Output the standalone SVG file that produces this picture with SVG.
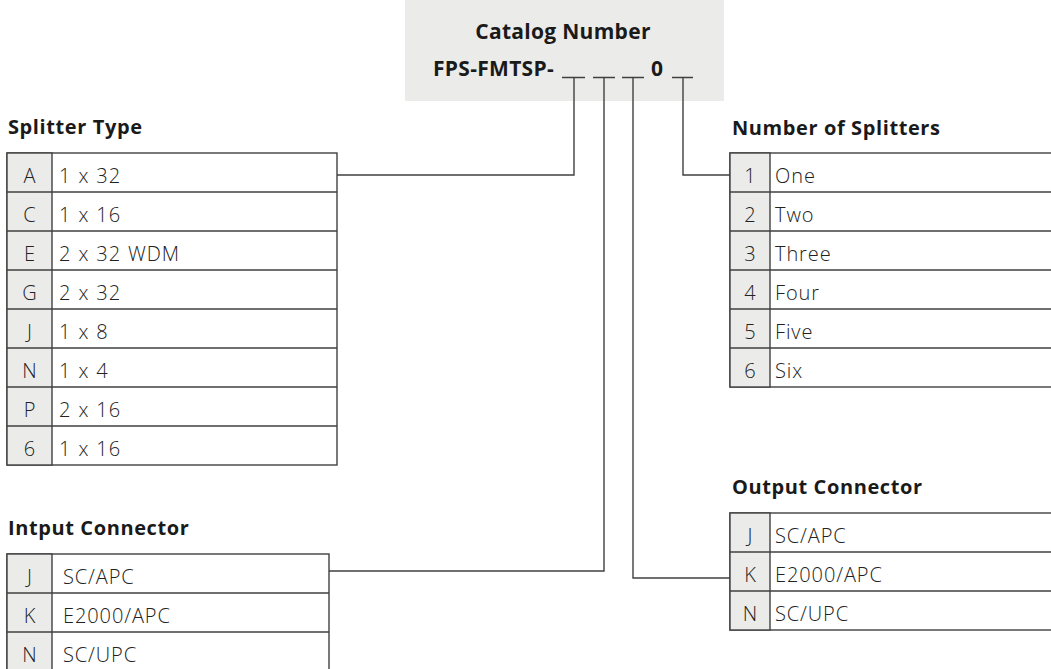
<svg xmlns="http://www.w3.org/2000/svg" width="1051" height="669" viewBox="0 0 1051 669">
<style>
.t{font-family:"Open Sans","Noto Sans","Liberation Sans",sans-serif;fill:#1a1a1a}
.h{font-weight:bold;font-size:20px;letter-spacing:0.6px}
.c{font-weight:bold;font-size:21px;letter-spacing:0.3px}
.v{font-size:20px;font-weight:300;letter-spacing:0.9px;fill:#222}
.k{font-size:20px;font-weight:300;fill:#222;text-anchor:middle}
.key{fill:#ebecea;stroke:#404040;stroke-width:1.4}
.cell{fill:#fff;stroke:#404040;stroke-width:1.4}
.ln{fill:none;stroke:#404040;stroke-width:1.4}
</style>
<rect width="1051" height="669" fill="#fff"/>
<g id="catalog">
<rect x="405" y="0" width="319" height="101" fill="#ebecea"/>
<text class="t c" x="563" y="39" text-anchor="middle">Catalog Number</text>
<text class="t c" x="433" y="76" letter-spacing="0">FPS-FMTSP-</text>
<text class="t c" x="651" y="76">0</text>
<path class="ln" d="M562 77.5H585M593 77.5H615M622 77.5H644M672 77.5H693"/>
</g>
<g id="connectors">
<path class="ln" d="M574 77.5V175H337"/>
<path class="ln" d="M604 77.5V571H329"/>
<path class="ln" d="M633 77.5V578H730"/>
<path class="ln" d="M683 77.5V175H730"/>
</g>
<g id="splitter-type">
<text class="t h" x="8" y="134">Splitter Type</text>
<rect class="cell" x="7" y="153" width="330" height="312"/>
<rect class="key" x="7" y="153" width="45" height="312"/>
<path class="ln" d="M7 192H337M7 231H337M7 270H337M7 309H337M7 348H337M7 387H337M7 426H337"/>
<g class="t k"><text x="29.5" y="183">A</text><text x="29.5" y="222">C</text><text x="29.5" y="261">E</text><text x="29.5" y="300">G</text><text x="29.5" y="339">J</text><text x="29.5" y="378">N</text><text x="29.5" y="417">P</text><text x="29.5" y="456">6</text></g>
<g class="t v" word-spacing="1"><text x="59" y="183">1 x 32</text><text x="59" y="222">1 x 16</text><text x="59" y="261">2 x 32 WDM</text><text x="59" y="300">2 x 32</text><text x="59" y="339">1 x 8</text><text x="59" y="378">1 x 4</text><text x="59" y="417">2 x 16</text><text x="59" y="456">1 x 16</text></g>
</g>
<g id="number-of-splitters">
<text class="t h" x="732" y="135">Number of Splitters</text>
<rect class="cell" x="730" y="153" width="330" height="234"/>
<rect class="key" x="730" y="153" width="40" height="234"/>
<path class="ln" d="M730 192H1060M730 231H1060M730 270H1060M730 309H1060M730 348H1060"/>
<g class="t k"><text x="750" y="183">1</text><text x="750" y="222">2</text><text x="750" y="261">3</text><text x="750" y="300">4</text><text x="750" y="339">5</text><text x="750" y="378">6</text></g>
<g class="t v"><text x="775" y="183">One</text><text x="775" y="222">Two</text><text x="775" y="261">Three</text><text x="775" y="300">Four</text><text x="775" y="339">Five</text><text x="775" y="378">Six</text></g>
</g>
<g id="input-connector">
<text class="t h" x="8" y="535">Intput Connector</text>
<rect class="cell" x="7" y="554" width="322" height="125"/>
<rect class="key" x="7" y="554" width="45" height="125"/>
<path class="ln" d="M7 593H329M7 632H329"/>
<g class="t k"><text x="29.5" y="584">J</text><text x="29.5" y="623">K</text><text x="29.5" y="662">N</text></g>
<g class="t v"><text x="63" y="584">SC/APC</text><text x="63" y="623">E2000/APC</text><text x="63" y="662">SC/UPC</text></g>
</g>
<g id="output-connector">
<text class="t h" x="732" y="494">Output Connector</text>
<rect class="cell" x="730" y="513" width="330" height="117"/>
<rect class="key" x="730" y="513" width="40" height="117"/>
<path class="ln" d="M730 552H1060M730 591H1060"/>
<g class="t k"><text x="750" y="543">J</text><text x="750" y="582">K</text><text x="750" y="621">N</text></g>
<g class="t v"><text x="775" y="543">SC/APC</text><text x="775" y="582">E2000/APC</text><text x="775" y="621">SC/UPC</text></g>
</g>
</svg>
